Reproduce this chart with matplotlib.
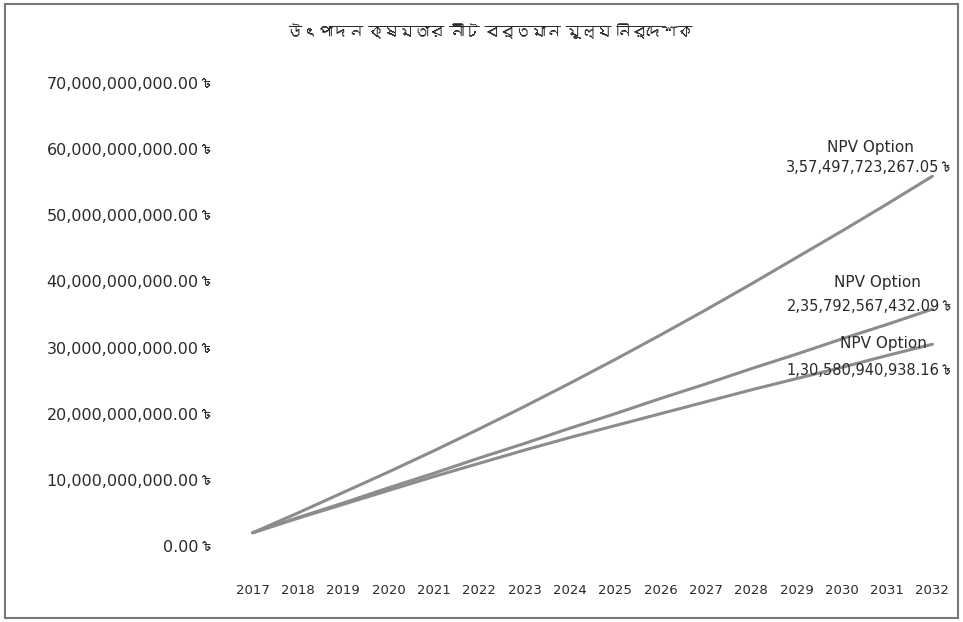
import matplotlib
matplotlib.use("Agg")
import matplotlib.pyplot as plt
from matplotlib import font_manager
from matplotlib.ft2font import FT2Font
from matplotlib.patches import Rectangle
from matplotlib.ticker import FuncFormatter

# data (values in billions of taka)
years = ['2017', '2018', '2019', '2020', '2021', '2022', '2023', '2024',
         '2025', '2026', '2027', '2028', '2029', '2030', '2031', '2032']
npv_top = [2.0, 5.0, 8.1, 11.2, 14.4, 17.7, 21.1, 24.6,
           28.2, 31.9, 35.7, 39.6, 43.6, 47.6, 51.7, 55.9]
npv_mid = [2.0, 4.3, 6.5, 8.8, 11.0, 13.3, 15.5, 17.8,
           20.0, 22.3, 24.5, 26.8, 29.0, 31.3, 33.5, 35.8]
npv_low = [2.0, 4.2, 6.3, 8.4, 10.5, 12.5, 14.5, 16.4,
           18.2, 20.0, 21.8, 23.6, 25.3, 27.0, 28.8, 30.5]
series_name = 'NPV Option'
end_values = ['3,57,497,723,267.05৳',
              '2,35,792,567,432.09৳',
              '1,30,580,940,938.16৳']
title = 'উৎপাদন ক্ষমতার নীট বর্তমান মূল্য নির্দেশক'


def find_bengali_font():
    # look for any installed font that has Bengali letters
    for f in font_manager.fontManager.ttflist:
        try:
            cmap = FT2Font(f.fname).get_charmap()
        except Exception:
            continue
        if 0x0995 in cmap and 0x09F3 in cmap:
            return f.name
    return None


bn = find_bengali_font()
families = ['DejaVu Sans'] + ([bn] if bn else [])
plt.rcParams['font.family'] = families


def taka(v, pos):
    return '{:,.2f}৳'.format(v * 1e9)


def main():
    fig = plt.figure(figsize=(9.63, 6.22), dpi=100)
    ax = fig.add_axes([230 / 963, 1 - 546 / 622, 725 / 963, 463 / 622])

    x = list(range(len(years)))
    all_series = (npv_top, npv_mid, npv_low)
    for series in all_series:
        ax.plot(x, series, color='#8c8c8c', lw=2.2, solid_capstyle='round')

    # label offsets in pixels from the last point: (name, value right edge)
    offsets = [((-62, 29), (22, 9)),
               ((-55, 27), (22, 3)),
               ((-49, 1), (22, -26))]
    for series, val, (o_name, o_val) in zip(all_series, end_values, offsets):
        ax.annotate(series_name, (x[-1], series[-1]), xytext=o_name,
                    textcoords='offset pixels', ha='center', va='center',
                    fontsize=11, color='#2a2a2a', annotation_clip=False)
        ax.annotate(val, (x[-1], series[-1]), xytext=o_val,
                    textcoords='offset pixels', ha='right', va='center',
                    fontsize=10.5, color='#2a2a2a', annotation_clip=False)

    ax.set_xlim(-0.5, len(years) - 0.5)
    ax.set_ylim(0, 70)
    ax.set_yticks(range(0, 71, 10))
    ax.yaxis.set_major_formatter(FuncFormatter(taka))
    ax.set_xticks(x)
    ax.set_xticklabels(years)
    ax.tick_params(axis='both', length=0, colors='#2a2a2a')
    ax.tick_params(axis='y', pad=11, labelsize=11.5)
    ax.tick_params(axis='x', pad=27, labelsize=9.5)
    for s in ax.spines.values():
        s.set_visible(False)

    fig.text(490 / 963, 1 - 32 / 622, title, ha='center', va='center',
             fontsize=11, color='#222222')

    # outer chart border
    fig.patches.append(Rectangle((5 / 963, 4 / 622), 953 / 963, 614 / 622,
                                 transform=fig.transFigure, fill=False,
                                 edgecolor='#777777', lw=1.5))

    fig.savefig('out.png', dpi=100)


if __name__ == '__main__':
    main()
